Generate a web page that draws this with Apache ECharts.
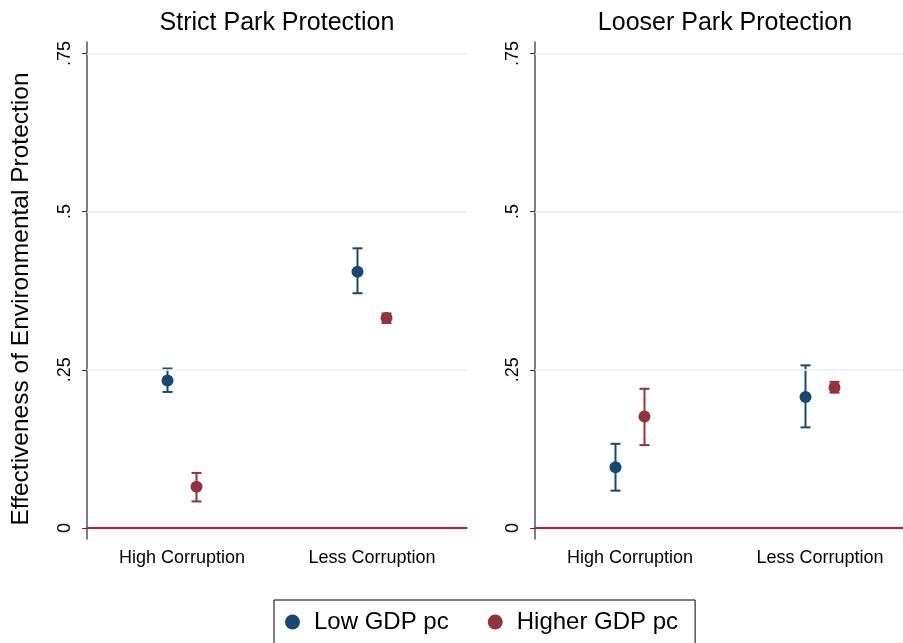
<!DOCTYPE html>
<html>
<head>
<meta charset="utf-8">
<script src="https://cdn.jsdelivr.net/npm/echarts@6/dist/echarts.min.js"></script>
<style>
  html, body { margin: 0; padding: 0; background: #fff; }
  #chart { width: 903px; height: 643px; }
</style>
</head>
<body>
<div id="chart"></div>
<script>
// Corruption categories on the x axis, one panel per protection regime
const categories = ['High Corruption', 'Less Corruption'];
const panelTitles = ['Strict Park Protection', 'Looser Park Protection'];
const groupNames = ['Low GDP pc', 'Higher GDP pc'];
const yTicks = [0, 0.25, 0.5, 0.75];

// Strict park protection: point estimates with lower / upper confidence bounds
const strictLowEst = [0.233, 0.405];
const strictLowLo = [0.215, 0.371];
const strictLowHi = [0.252, 0.442];
const strictHighEst = [0.065, 0.332];
const strictHighLo = [0.042, 0.324];
const strictHighHi = [0.087, 0.339];

// Looser park protection
const looserLowEst = [0.096, 0.207];
const looserLowLo = [0.059, 0.159];
const looserLowHi = [0.133, 0.257];
const looserHighEst = [0.176, 0.222];
const looserHighLo = [0.131, 0.214];
const looserHighHi = [0.220, 0.231];

const BLUE = '#1a476f';
const RED = '#90353b';
const FONT = '"Liberation Sans", Arial, Helvetica, sans-serif';
const OFFSET = 14.5;

const chart = echarts.init(document.getElementById('chart'), null, { renderer: 'canvas' });

function tickLabel(v) {
  if (v === 0) return '0';
  return String(v).replace(/^0/, '');
}

function errorBarSeries(name, gridIdx, lo, hi, color, dx) {
  return {
    name: name,
    type: 'custom',
    xAxisIndex: gridIdx,
    yAxisIndex: gridIdx,
    z: 3,
    silent: true,
    data: categories.map((c, i) => [i, lo[i], hi[i]]),
    encode: { x: 0, y: [1, 2] },
    renderItem: function (params, api) {
      const top = api.coord([api.value(0), api.value(2)]);
      const bot = api.coord([api.value(0), api.value(1)]);
      const x = top[0] + dx;
      const cap = 5;
      const style = { stroke: color, lineWidth: 2 };
      return {
        type: 'group',
        children: [
          { type: 'line', shape: { x1: x, y1: top[1], x2: x, y2: bot[1] }, style: style },
          { type: 'line', shape: { x1: x - cap, y1: top[1], x2: x + cap, y2: top[1] }, style: style },
          { type: 'line', shape: { x1: x - cap, y1: bot[1], x2: x + cap, y2: bot[1] }, style: style }
        ]
      };
    }
  };
}

function pointSeries(name, gridIdx, est, color, dx) {
  return {
    name: name,
    type: 'scatter',
    xAxisIndex: gridIdx,
    yAxisIndex: gridIdx,
    z: 4,
    symbol: 'circle',
    symbolSize: 12,
    symbolOffset: [dx, 0],
    itemStyle: { color: color, opacity: 1 },
    data: est
  };
}

function guideSeries(gridIdx) {
  return {
    type: 'line',
    xAxisIndex: gridIdx,
    yAxisIndex: gridIdx,
    data: [],
    silent: true,
    z: 1,
    markLine: {
      silent: true,
      symbol: 'none',
      label: { show: false },
      animation: false,
      data: yTicks.map(v => ({
        yAxis: v,
        lineStyle: v === 0
          ? { color: '#d0103a', width: 2, type: 'solid' }
          : { color: '#e6eef1', width: 1.5, type: 'solid' }
      }))
    }
  };
}

const grids = [
  { left: 87, top: 42, width: 380, height: 497, outerBoundsMode: 'none', containLabel: false },
  { left: 535, top: 42, width: 380, height: 497, outerBoundsMode: 'none', containLabel: false }
];

const xAxes = grids.map((g, i) => ({
  type: 'category',
  gridIndex: i,
  data: categories,
  boundaryGap: true,
  axisLine: { lineStyle: { color: '#666', width: 1.5 } },
  axisTick: { alignWithLabel: true, length: 5, lineStyle: { color: '#444' } },
  axisLabel: { color: '#000', fontSize: 18, fontFamily: FONT, margin: 10 },
  splitLine: { show: false }
}));

const yAxes = grids.map((g, i) => ({
  type: 'value',
  gridIndex: i,
  min: -0.0174,
  max: 0.768,
  axisLine: { show: true, lineStyle: { color: '#555', width: 1.5 } },
  axisTick: { show: true, length: 5, customValues: yTicks, lineStyle: { color: '#333' } },
  axisLabel: {
    customValues: yTicks,
    formatter: tickLabel,
    rotate: 90,
    color: '#000',
    fontSize: 18,
    fontFamily: FONT,
    margin: 13
  },
  splitLine: { show: false }
}));

const series = [
  guideSeries(0),
  guideSeries(1),
  errorBarSeries(groupNames[0], 0, strictLowLo, strictLowHi, BLUE, -OFFSET),
  errorBarSeries(groupNames[1], 0, strictHighLo, strictHighHi, RED, OFFSET),
  errorBarSeries(groupNames[0], 1, looserLowLo, looserLowHi, BLUE, -OFFSET),
  errorBarSeries(groupNames[1], 1, looserHighLo, looserHighHi, RED, OFFSET),
  pointSeries(groupNames[0], 0, strictLowEst, BLUE, -OFFSET),
  pointSeries(groupNames[1], 0, strictHighEst, RED, OFFSET),
  pointSeries(groupNames[0], 1, looserLowEst, BLUE, -OFFSET),
  pointSeries(groupNames[1], 1, looserHighEst, RED, OFFSET)
];

chart.setOption({
  backgroundColor: '#fff',
  animation: false,
  title: panelTitles.map((t, i) => ({
    text: t,
    left: grids[i].left + grids[i].width / 2,
    textAlign: 'center',
    top: 11,
    padding: 0,
    textStyle: { fontSize: 25, fontWeight: 'normal', color: '#000', fontFamily: FONT }
  })),
  legend: {
    data: groupNames.map(n => ({ name: n, icon: 'circle', itemStyle: { color: n === groupNames[0] ? BLUE : RED } })),
    left: 274,
    top: 600,
    orient: 'horizontal',
    itemWidth: 15,
    itemHeight: 15,
    itemGap: 39,
    padding: [10, 17, 14, 11],
    borderColor: '#000',
    borderWidth: 1,
    textStyle: { fontSize: 24, color: '#000', fontFamily: FONT, padding: [0, 0, 0, 9] }
  },
  graphic: [{
    type: 'text',
    x: 21,
    y: 299,
    rotation: Math.PI / 2,
    style: {
      text: 'Effectiveness of Environmental Protection',
      fontSize: 24.5,
      fontFamily: FONT,
      fill: '#000',
      align: 'center',
      verticalAlign: 'middle'
    }
  }],
  grid: grids,
  xAxis: xAxes,
  yAxis: yAxes,
  series: series
});
</script>
</body>
</html>
